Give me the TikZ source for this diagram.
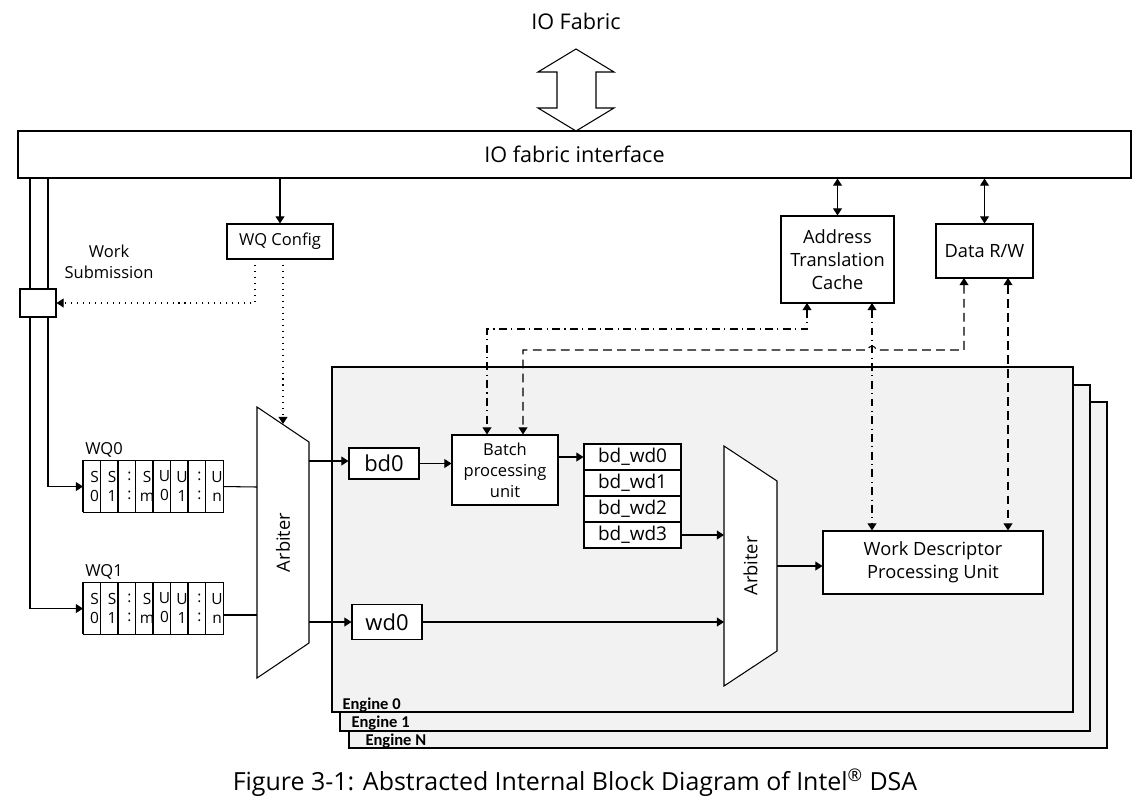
\documentclass[tikz,border=0pt]{standalone}
\usepackage{fontspec}
\setmainfont{Open Sans}
\newfontfamily\engfont{Carlito}
\usetikzlibrary{arrows.meta,positioning,calc}

\def\px{0.02cm}

\tikzset{
  blk/.style={draw, fill=white, align=center, inner sep=0pt},
  bigtxt/.style={font=\fontsize{12.3}{15}\selectfont},
  midtxt/.style={font=\fontsize{10.4}{13}\selectfont},
  smalltxt/.style={font=\fontsize{9.4}{12}\selectfont},
  bdtxt/.style={font=\fontsize{10.8}{13}\selectfont},
  celltxt/.style={font=\fontsize{8.8}{10.8}\selectfont, align=center, inner sep=0pt},
  englbl/.style={font=\engfont\bfseries\fontsize{9.4}{11}\selectfont, anchor=west, inner sep=0pt},
  engbox/.style={draw, fill=black!5},
  dashdot/.style={dash pattern=on 4.5pt off 2.5pt on 0.6pt off 2.5pt},
  dsh/.style={dash pattern=on 5pt off 3pt},
  dotline/.style={dash pattern=on 0.6pt off 2.8pt},
}

\begin{document}
\begin{tikzpicture}[x=0.02cm, y=-0.02cm, >={Triangle[length=4pt,width=5pt]}, line width=0.6pt]
 \useasboundingbox (0,0) rectangle (1145,806);

 %engines
 \foreach \name/\l/\t/\r/\b/\lx/\ly in {N/349/402/1107/748/365/741, 1/340/385/1090/731/351/723, 0/332/367/1073/712/342/705} {
   \draw[engbox] (\l,\t) rectangle (\r,\b);
   \node[englbl] (eng\name) at (\lx,\ly) {Engine \name};
 }

 %io fabric
 \node[bigtxt] (iofab) at (576,21) {IO Fabric};
 \draw[fill=white] (576,49) -- (614,72) -- (596,72) -- (596,108) -- (614,108) -- (576,131)
   -- (538,108) -- (557,108) -- (557,72) -- (538,72) -- cycle;
 \node[blk, bigtxt, minimum width=1113*\px, minimum height=47*\px] (ifc) at (574.5,154.5) {IO fabric interface};

 %work queues
 \foreach \q/\wy in {0/460, 1/582} {
   \node[blk, minimum width=140*\px, minimum height=52*\px, anchor=north west] (wq\q) at (83,\wy) {};
   \node[smalltxt, anchor=south west, inner sep=1pt] (wq\q lbl) at (wq\q.north west) {WQ\q};
   \foreach \i/\a/\b in {0/S/0, 1/S/1, 2/:/:, 3/S/m, 4/U/0, 5/U/1, 6/:/:, 7/U/n} {
     \draw (83+\i*17.5,\wy) -- (83+\i*17.5,\wy+52);
     \node[celltxt] (wq\q c\i) at (83+\i*17.5+11.5,\wy+26) {\a\\\b};
   }
 }

 %bus to the queues
 \coordinate (busA) at (30,178);
 \coordinate (busB) at (48,178);
 \draw[->] (busA) |- (wq1.west);
 \draw[->] (busB) |- (wq0.west);
 \node[blk, minimum width=36*\px, minimum height=28*\px] (wsbox) at (38,303) {};
 \node[smalltxt, align=center] (wsub) at (109,261.5) {Work\\Submission};

 %wq config
 \node[blk, smalltxt, minimum width=106*\px, minimum height=35*\px] (wqcfg) at (280,241.5) {WQ Config};
 \draw[->] (wqcfg.north |- ifc.south) -- (wqcfg.north);

 %arbiters
 \foreach \n/\xl/\xr/\ya/\yb/\yc/\yd in {A/257/309/407/442/643/678, B/724/777/446/481/651/686} {
   \draw[fill=white] (\xl,\ya) -- (\xr,\yb) -- (\xr,\yc) -- (\xl,\yd) -- cycle;
   \node[midtxt, rotate=90] (arb\n) at ({(\xl+\xr)/2},{(\ya+\yd)/2}) {Arbiter};
 }
 \coordinate (arbA-in0) at (257,487);
 \coordinate (arbA-in1) at (257,615);
 \coordinate (arbA-out0) at (309,461);
 \coordinate (arbA-out1) at (309,622);
 \coordinate (arbA-cfg) at (283,424);
 \coordinate (arbB-in0) at (724,537);
 \coordinate (arbB-in1) at (724,621);
 \coordinate (arbB-out) at (777,566);

 \coordinate (cfgA) at (255,259);
 \coordinate (cfgB) at (283,259);
 \draw[dotline,->] (cfgA) |- (wsbox.east);
 \draw[dotline,->] (cfgB) -- (arbA-cfg);
 \draw (wq0.east) -- (arbA-in0);
 \draw (wq1.east |- arbA-in1) -- (arbA-in1);

 %engine blocks
 \node[blk, font=\fontsize{12.5}{15}\selectfont, minimum width=70*\px, minimum height=31*\px] (bd0) at (384,463.5) {bd0};
 \node[blk, font=\fontsize{12.5}{15}\selectfont, minimum width=70*\px, minimum height=35*\px] (wd0) at (387,622) {wd0};
 \node[blk, smalltxt, minimum width=106*\px, minimum height=70*\px] (batch) at (505,470) {Batch\\processing\\unit};
 \foreach \i in {0,...,3} {
   \node[blk, bdtxt, minimum width=97*\px, minimum height=26*\px] (bdwd\i) at (632.5,457+\i*26) {bd\_wd\i};
 }
 \node[blk, midtxt, minimum width=220*\px, minimum height=63*\px] (wdpu) at (933,562.5) {Work Descriptor\\Processing Unit};

 \draw[->] (arbA-out0) -- (arbA-out0 -| bd0.west);
 \draw[->] (arbA-out1) -- (arbA-out1 -| wd0.west);
 \draw[->] (bd0.east) -- (bd0.east -| batch.west);
 \draw[->] (batch.east |- bdwd0) -- (bdwd0.west);
 \draw[->] (bdwd3.east) -- (bdwd3.east -| arbB-in0);
 \draw[->] (wd0.east) -- (wd0.east -| arbB-in1);
 \draw[->] (arbB-out) -- (arbB-out -| wdpu.west);

 %translation cache and data
 \node[blk, midtxt, minimum width=113*\px, minimum height=87*\px] (atc) at (837.5,259.5) {Address\\Translation\\Cache};
 \node[blk, midtxt, minimum width=97*\px, minimum height=54*\px] (drw) at (984.5,251) {Data R/W};
 \draw[<->] (atc.north |- ifc.south) -- (atc.north);
 \draw[<->] (drw.north |- ifc.south) -- (drw.north);

 \coordinate (atcA) at (807,303);
 \coordinate (atcB) at (872,303);
 \coordinate (drwA) at (964,278);
 \coordinate (drwB) at (1008,278);
 \coordinate (bendA) at (487,329);
 \coordinate (bendB) at (523,350);
 \draw[dashdot,<->] (atcA) |- (bendA) -- (bendA |- batch.north);
 \draw[dsh,<->] (drwA) -- (964,350) -- (876,350) arc (0:-180:4) -- (bendB) -- (bendB |- batch.north);
 \draw[dashdot,<->] (atcB) -- (atcB |- wdpu.north);
 \draw[dsh,<->] (drwB) -- (drwB |- wdpu.north);

 %caption
 \node[font=\fontsize{14.2}{17}\selectfont] (cap) at (575,783) {Figure 3-1: Abstracted Internal Block Diagram of Intel\textsuperscript{®} DSA};
\end{tikzpicture}
\end{document}
